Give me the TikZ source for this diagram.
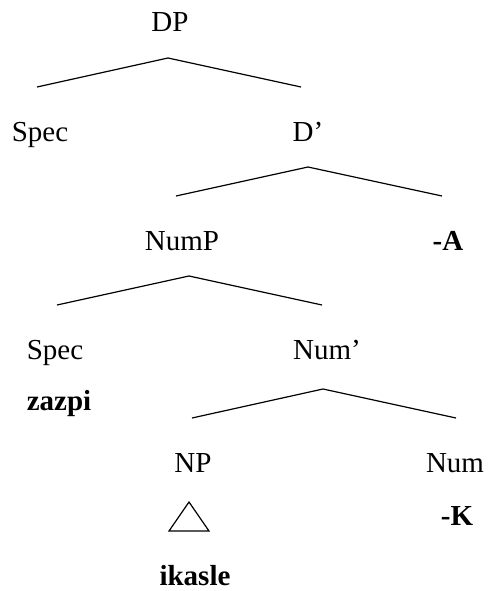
\documentclass[tikz,border=0pt]{standalone}
\usepackage{fontspec}
\setmainfont{Liberation Serif}

\tikzset{
    cat/.style={anchor=base, inner sep=0pt, font=\fontsize{29}{32}\selectfont},
    lex/.style={anchor=base, inner sep=0pt, font=\fontsize{29}{32}\selectfont\bfseries},
    branch/.style={black, line width=1.2pt}
}

\begin{document}
\begin{tikzpicture}[x=1pt, y=-1pt]
    \useasboundingbox (0,0) rectangle (488,591);

    \node[cat] (dp) at (170,32) {DP};
    \node[cat] (spec1) at (40,142) {Spec};
    \node[cat] (dbar) at (308,142) {D’};
    \node[cat] (nump) at (182,250) {NumP};
    \node[lex] (sufA) at (448,250) {-A};
    \node[cat] (spec2) at (55,359) {Spec};
    \node[cat] (numbar) at (327,359) {Num’};
    \node[lex] (zazpi) at (59,410) {zazpi};
    \node[cat] (np) at (193,472) {NP};
    \node[cat] (num) at (455,472) {Num};
    \node[lex] (sufK) at (457,525) {-K};
    \node[lex] (ikasle) at (195,585) {ikasle};

    \coordinate (dpTop) at (168,58);
    \coordinate (dpL) at (37,87);
    \coordinate (dpR) at (301,87);
    \coordinate (dbarTop) at (308,167);
    \coordinate (dbarL) at (176,196);
    \coordinate (dbarR) at (442,196);
    \coordinate (numpTop) at (189,276);
    \coordinate (numpL) at (57,305);
    \coordinate (numpR) at (322,305);
    \coordinate (numbarTop) at (323,389);
    \coordinate (numbarL) at (192,418);
    \coordinate (numbarR) at (456,418);

    \draw[branch] (dpL) -- (dpTop) -- (dpR);
    \draw[branch] (dbarL) -- (dbarTop) -- (dbarR);
    \draw[branch] (numpL) -- (numpTop) -- (numpR);
    \draw[branch] (numbarL) -- (numbarTop) -- (numbarR);

    % roof under NP
    \coordinate (roofTop) at (189,502);
    \coordinate (roofL) at (169,531);
    \coordinate (roofR) at (209,531);
    \draw[branch, line join=miter] (roofTop) -- (roofL) -- (roofR) -- cycle;
\end{tikzpicture}
\end{document}
